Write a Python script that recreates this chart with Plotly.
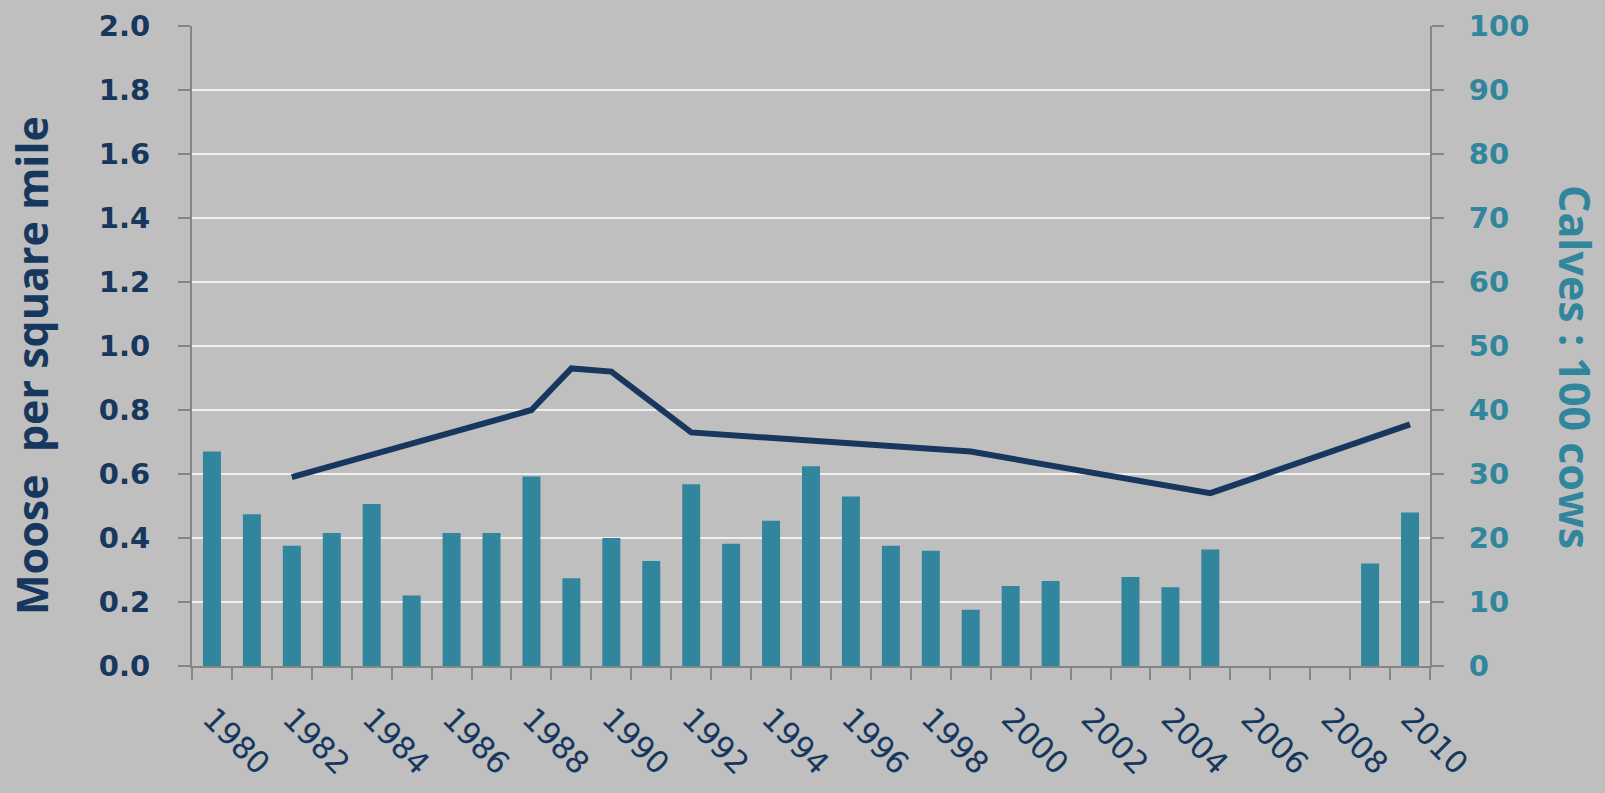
import plotly.graph_objects as go

# ---- data ----
years = list(range(1980, 2011))
calves_per_100_cows = [33.5, 23.7, 18.8, 20.8, 25.3, 11.0, 20.8, 20.8, 29.6, 13.7,
                       20.0, 16.4, 28.4, 19.1, 22.7, 31.2, 26.5, 18.8, 18.0, 8.8,
                       12.5, 13.3, None, 13.9, 12.3, 18.2, None, None, None, 16.0, 24.0]
moose_years = [1982, 1988, 1989, 1990, 1992, 1999, 2005, 2010]
moose_per_sq_mile = [0.59, 0.80, 0.93, 0.92, 0.73, 0.67, 0.54, 0.755]

label_years = list(range(1980, 2011, 2))
left_ticks = [0.0, 0.2, 0.4, 0.6, 0.8, 1.0, 1.2, 1.4, 1.6, 1.8, 2.0]
right_ticks = list(range(0, 101, 10))

NAVY = "#17375e"
TEAL = "#31859c"
GRAY = "#868686"
BG = "#bfbfbf"

fig = go.Figure()
fig.add_bar(x=years, y=calves_per_100_cows, yaxis="y", width=0.45,
            marker=dict(color=TEAL, line=dict(width=0)), name="Calves : 100 cows")
fig.add_scatter(x=moose_years, y=moose_per_sq_mile, yaxis="y2", mode="lines",
                line=dict(color=NAVY, width=6), name="Moose per square mile")

L, R, T, B = 192, 175, 26, 127
W, H = 1605, 793
pw = W - L - R
ph = H - T - B

def px_x(px):
    return (px - L) / pw

def px_y(py):
    return (H - B - py) / ph

fig.update_layout(
    width=W, height=H,
    margin=dict(l=L, r=R, t=T, b=B, autoexpand=False),
    paper_bgcolor=BG, plot_bgcolor=BG,
    showlegend=False,
    bargap=0.55,
    xaxis=dict(
        range=[1979.5, 2010.5], tickmode="array", tickvals=label_years,
        ticktext=[str(y) for y in label_years], tickangle=45,
        tickfont=dict(family="DejaVu Sans", size=31, color=NAVY),
        ticks="", showline=True, linecolor=GRAY, linewidth=2,
        showgrid=False, zeroline=False, automargin=False,
        ticklabelstandoff=20,
        minor=dict(ticks="outside", ticklen=12, tickwidth=2, tickcolor=GRAY,
                   tickmode="array", tickvals=[1979.5 + i for i in range(32)],
                   showgrid=False),
    ),
    yaxis=dict(
        side="right", range=[0, 100], tickmode="array", tickvals=right_ticks,
        tickfont=dict(family="DejaVu Sans", size=29, color=TEAL, weight="bold"),
        ticks="outside", ticklen=12, tickwidth=2, tickcolor=GRAY,
        showline=True, linecolor=GRAY, linewidth=2,
        showgrid=True, gridcolor="#f0f0f0", gridwidth=2,
        zeroline=False, automargin=False, ticklabelstandoff=19,
    ),
    yaxis2=dict(
        overlaying="y", side="left", range=[0, 2], tickmode="array",
        tickvals=left_ticks, ticktext=[f"{v:.1f}" for v in left_ticks],
        tickfont=dict(family="DejaVu Sans", size=29, color=NAVY, weight="bold"),
        ticks="outside", ticklen=12, tickwidth=2, tickcolor=GRAY,
        showline=True, linecolor=GRAY, linewidth=2,
        showgrid=False, zeroline=False, automargin=False, ticklabelstandoff=22,
    ),
    annotations=[
        dict(text="Moose\u00a0 per square mile", textangle=-90, showarrow=False,
             xref="paper", yref="paper", x=px_x(31), y=px_y(366),
             xanchor="center", yanchor="middle",
             font=dict(family="Open Sans", size=43, color=NAVY, weight="bold")),
        dict(text="Calves : 100 cows", textangle=90, showarrow=False,
             xref="paper", yref="paper", x=px_x(1576), y=px_y(367),
             xanchor="center", yanchor="middle",
             font=dict(family="Open Sans", size=43, color=TEAL, weight="bold")),
    ],
)

fig.write_html(
    "out.html",
    config={"displayModeBar": False},
    post_script="document.body.style.margin='0';document.body.style.padding='0';"
                "document.body.style.background='%s';" % BG,
)
